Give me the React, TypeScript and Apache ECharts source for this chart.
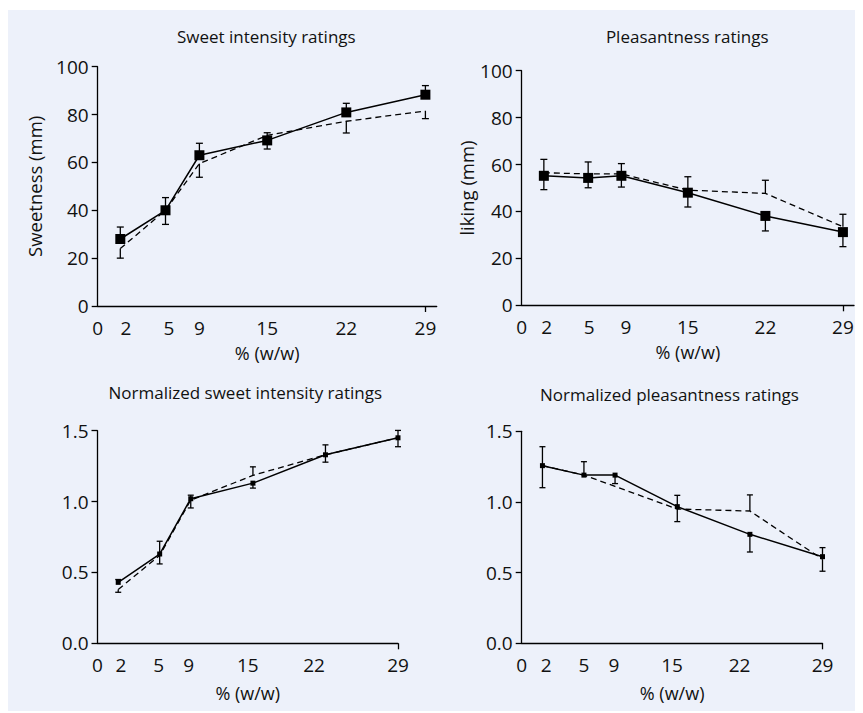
import React, { useEffect, useRef } from "react";
import * as echarts from "echarts";

// ---- data ----
const concentrationLabels = ["0", "2", "5", "9", "15", "22", "29"]; // % (w/w) tick labels
// where each measured concentration (2,5,9,15,22,29) sits on the drawn axis
const pointAxisPos = [2, 6, 9, 15, 22, 29];

// Sweet intensity ratings (mm)
const sweetSolid = [28, 40, 63, 69.2, 80.9, 88.3];
const sweetSolidUp = [5, 5.3, 5, 3.2, 3.8, 3.8];
const sweetSolidDown = [0, 0, 0, 0, 0, 0];
const sweetDashed = [24, 40, 59.5, 71.3, 77.2, 81.5];
const sweetDashedUp = [0, 0, 0, 0, 0, 0];
const sweetDashedDown = [4, 5.9, 5.7, 5.7, 4.9, 3.2];

// Pleasantness ratings (mm)
const likeSolid = [55.2, 54.3, 55.2, 48, 38.1, 31.2];
const likeSolidUp = [0, 0, 0, 0, 0, 0];
const likeSolidDown = [5.9, 4.2, 4.8, 6.1, 6.4, 6.2];
const likeDashed = [56.5, 56, 56, 49.1, 47.7, 33.5];
const likeDashedUp = [5.7, 5.1, 4.4, 5.7, 5.6, 5.3];
const likeDashedDown = [0, 0, 0, 0, 0, 0];

// Normalized sweet intensity ratings
const normSweetSolid = [0.43, 0.63, 1.02, 1.13, 1.33, 1.45];
const normSweetSolidUp = [0.02, 0.09, 0.025, 0, 0.07, 0.052];
const normSweetSolidDown = [0, 0, 0, 0.035, 0, 0];
const normSweetDashed = [0.38, 0.62, 1.01, 1.185, 1.33, 1.45];
const normSweetDashedUp = [0, 0, 0, 0.06, 0, 0];
const normSweetDashedDown = [0.02, 0.06, 0.055, 0, 0.052, 0.063];

// Normalized pleasantness ratings
const normLikeSolid = [1.257, 1.19, 1.19, 0.967, 0.771, 0.613];
const normLikeSolidUp = [0.134, 0.095, 0, 0.08, 0, 0.064];
const normLikeSolidDown = [0, 0, 0.06, 0, 0.125, 0];
const normLikeDashed = [1.257, 1.19, 1.11, 0.95, 0.936, 0.595];
const normLikeDashedUp = [0, 0, 0, 0, 0.114, 0];
const normLikeDashedDown = [0.156, 0, 0, 0.089, 0, 0.085];

const titles = [
  "Sweet intensity ratings",
  "Pleasantness ratings",
  "Normalized sweet intensity ratings",
  "Normalized pleasantness ratings",
];
const yNames = ["Sweetness (mm)", "liking (mm)", "", ""];
const xName = "% (w/w)";

// ---- layout ----
const FONT = "Open Sans";
const INK = "#111111";
const TICK_FS = 19;
const grids = [
  { left: 89.7, top: 56.7, width: 339, height: 239.3 },
  { left: 513.7, top: 60.7, width: 332.3, height: 234.6 },
  { left: 89.5, top: 420.7, width: 300.5, height: 212.6 },
  { left: 513.7, top: 421.3, width: 300.8, height: 212 },
];
const xMax = [30, 30, 29, 29];
const labelPos = [
  [0, 2.5, 6.3, 9, 15, 22, 29],
  [0, 2.25, 6.1, 9.4, 15, 22, 29],
  [0, 2.25, 5.9, 8.8, 14.5, 20.9, 29],
  [0, 2.35, 6, 8.9, 14.5, 21, 29],
];
const titlePos = [
  [258.3, 18],
  [679.2, 18],
  [237.3, 373.5],
  [661.5, 375.5],
];

const panels = [
  { solid: sweetSolid, sUp: sweetSolidUp, sDown: sweetSolidDown, dashed: sweetDashed, dUp: sweetDashedUp, dDown: sweetDashedDown },
  { solid: likeSolid, sUp: likeSolidUp, sDown: likeSolidDown, dashed: likeDashed, dUp: likeDashedUp, dDown: likeDashedDown },
  { solid: normSweetSolid, sUp: normSweetSolidUp, sDown: normSweetSolidDown, dashed: normSweetDashed, dUp: normSweetDashedUp, dDown: normSweetDashedDown },
  { solid: normLikeSolid, sUp: normLikeSolidUp, sDown: normLikeSolidDown, dashed: normLikeDashed, dUp: normLikeDashedUp, dDown: normLikeDashedDown },
];

function errRender(capHalf: number) {
  return (params: any, api: any) => {
    const x = api.value(0);
    const y = api.value(1);
    const up = api.value(2);
    const down = api.value(3);
    const c = api.coord([x, y]);
    const style = { stroke: "#000", lineWidth: 1.3 };
    const children: any[] = [];
    const add = (v: number) => {
      const t = api.coord([x, v]);
      children.push({ type: "line", shape: { x1: c[0], y1: c[1], x2: t[0], y2: t[1] }, style });
      children.push({ type: "line", shape: { x1: t[0] - capHalf, y1: t[1], x2: t[0] + capHalf, y2: t[1] }, style });
    };
    if (up > 0) add(y + up);
    if (down > 0) add(y - down);
    return { type: "group", children };
  };
}

function buildOption() {
  const grid = grids.map((g) => ({ ...g, containLabel: false }));
  const xAxis = grids.map((_, i) => ({
    type: "value",
    gridIndex: i,
    min: 0,
    max: xMax[i],
    name: xName,
    nameLocation: "middle",
    nameGap: i < 2 ? 38 : 41,
    nameTextStyle: { fontSize: 18, color: INK, fontFamily: FONT },
    splitLine: { show: false },
    axisLine: { show: true, onZero: false, lineStyle: { color: "#000", width: 1.3 } },
    axisTick: { show: true, customValues: [29], length: 6, lineStyle: { color: "#000", width: 1.3 } },
    axisLabel: {
      customValues: labelPos[i],
      margin: 12,
      fontSize: TICK_FS,
      color: INK,
      fontFamily: FONT,
      formatter: (v: number) => {
        const k = labelPos[i].findIndex((p) => Math.abs(p - v) < 1e-6);
        return k >= 0 ? concentrationLabels[k] : "";
      },
    },
  }));
  const yAxis = grids.map((_, i) => ({
    type: "value",
    gridIndex: i,
    min: 0,
    max: i < 2 ? 100 : 1.5,
    interval: i < 2 ? 20 : 0.5,
    name: yNames[i],
    nameLocation: "middle",
    nameGap: i === 0 ? 54 : 46,
    nameTextStyle: { fontSize: 18.5, color: INK, fontFamily: FONT },
    splitLine: { show: false },
    axisLine: { show: true, lineStyle: { color: "#000", width: 1.3 } },
    axisTick: { show: true, length: 6, lineStyle: { color: "#000", width: 1.3 } },
    axisLabel: {
      margin: 9,
      fontSize: TICK_FS,
      color: INK,
      fontFamily: FONT,
      formatter: (v: number) => (i < 2 ? String(v) : v.toFixed(1)),
    },
  }));
  const series: any[] = [];
  panels.forEach((p, i) => {
    const big = i < 2;
    const solidData = pointAxisPos.map((x, k) => [x, p.solid[k]]);
    const dashedData = pointAxisPos.map((x, k) => [x, p.dashed[k]]);
    series.push({
      type: "custom",
      xAxisIndex: i,
      yAxisIndex: i,
      z: 1,
      renderItem: errRender(big ? 3.5 : 3),
      data: pointAxisPos.map((x, k) => [x, p.dashed[k], p.dUp[k], p.dDown[k]]),
      silent: true,
    });
    series.push({
      type: "custom",
      xAxisIndex: i,
      yAxisIndex: i,
      z: 1,
      renderItem: errRender(big ? 3.5 : 3),
      data: pointAxisPos.map((x, k) => [x, p.solid[k], p.sUp[k], p.sDown[k]]),
      silent: true,
    });
    series.push({
      type: "line",
      xAxisIndex: i,
      yAxisIndex: i,
      z: 2,
      data: dashedData,
      symbol: "none",
      lineStyle: { color: "#000", width: 1.3, type: [6, 4] },
      silent: true,
    });
    series.push({
      type: "line",
      xAxisIndex: i,
      yAxisIndex: i,
      z: 3,
      data: solidData,
      symbol: "rect",
      symbolSize: big ? 10 : 5,
      itemStyle: { color: "#000" },
      lineStyle: { color: "#000", width: 1.5 },
      silent: true,
    });
  });
  const title = titles.map((t, i) => ({
    text: t,
    left: titlePos[i][0],
    top: titlePos[i][1],
    textAlign: "center",
    padding: 0,
    textStyle: { fontSize: 17, fontWeight: "normal", color: INK, fontFamily: FONT },
  }));
  return {
    animation: false,
    backgroundColor: "#edf1fa",
    textStyle: { fontFamily: FONT },
    title,
    grid,
    xAxis,
    yAxis,
    series,
  };
}

export default function App() {
  const ref = useRef<HTMLDivElement>(null);
  useEffect(() => {
    if (!ref.current) return;
    const chart = echarts.init(ref.current, undefined, { renderer: "svg" });
    chart.setOption(buildOption() as any);
    return () => chart.dispose();
  }, []);
  return (
    <div style={{ paddingTop: 2 }}>
      <div ref={ref} style={{ width: 855, height: 701 }} />
    </div>
  );
}
